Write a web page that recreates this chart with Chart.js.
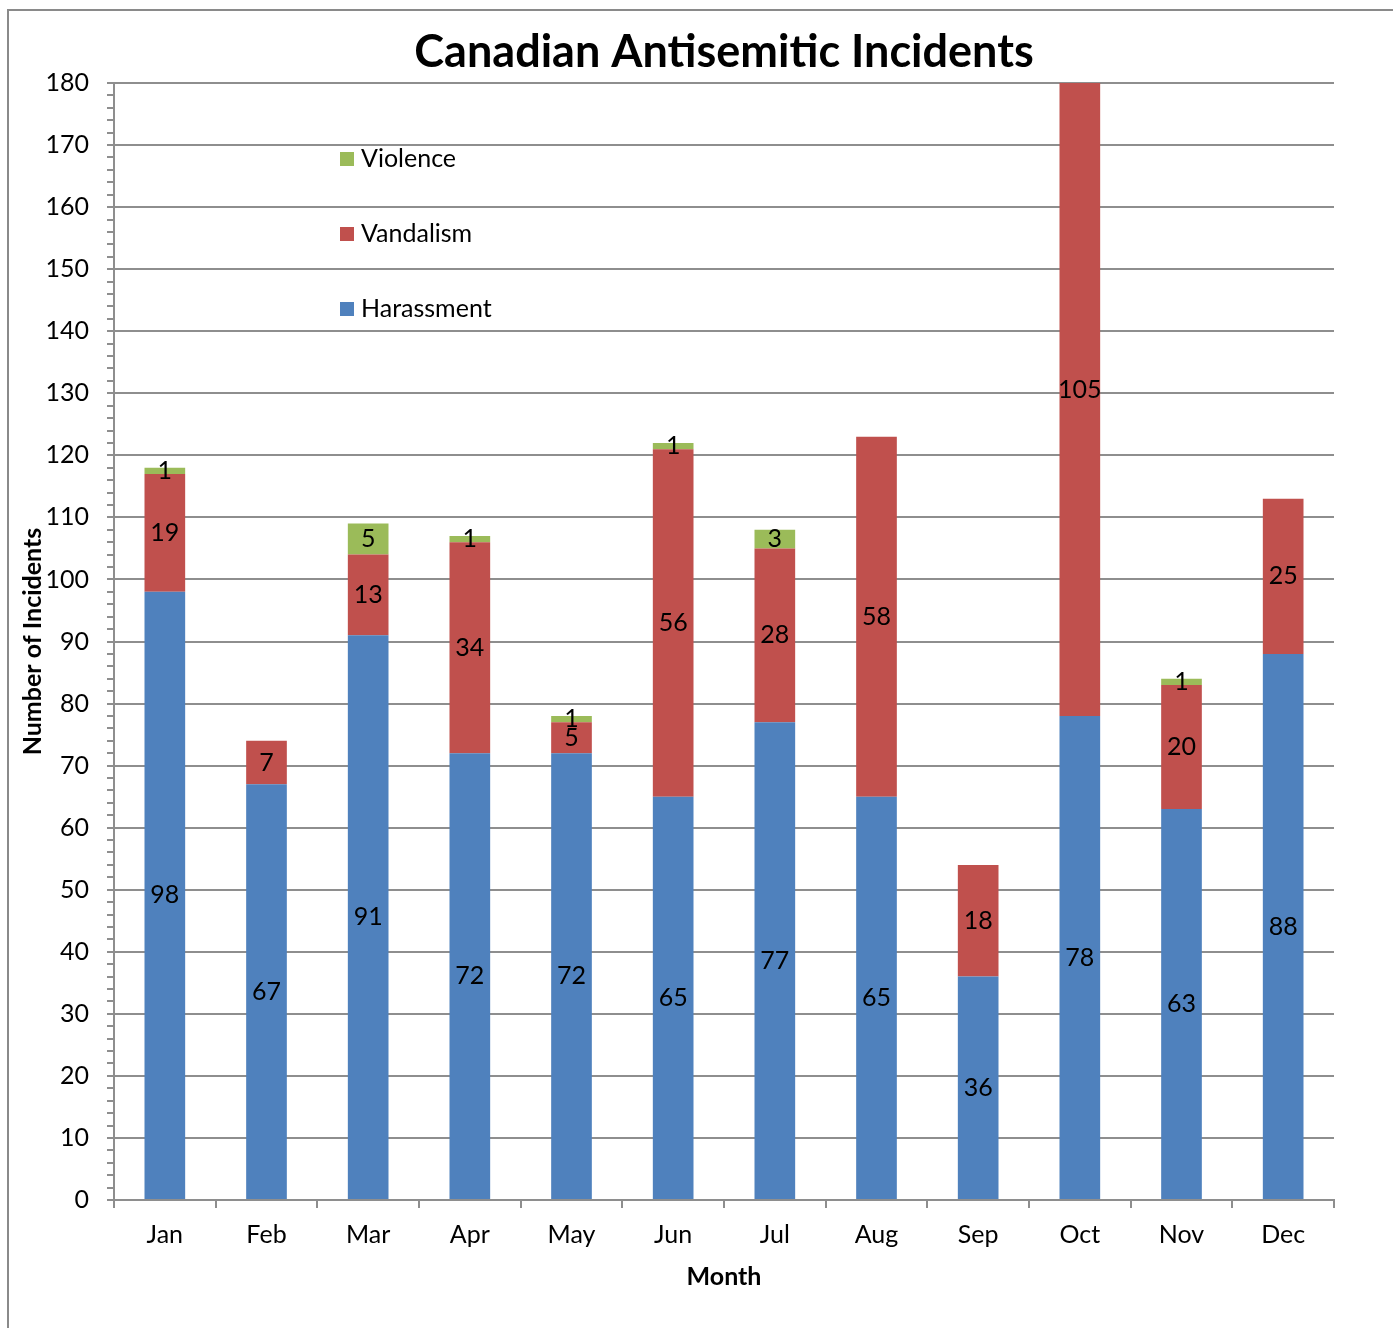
<!DOCTYPE html>
<html>
<head>
<meta charset="utf-8">
<script src="https://cdn.jsdelivr.net/npm/chart.js@4/dist/chart.umd.min.js"></script>
<style>
    html, body { margin: 0; padding: 0; background: #fff; overflow: hidden; }
    #frame { position: absolute; left: 7px; top: 9px; width: 1420px; height: 1360px; border: 2px solid #8a8a8a; }
    #chart { position: absolute; left: 0; top: 0; }
</style>
</head>
<body>
<div id="frame"></div>
<canvas id="chart" width="1393" height="1328"></canvas>
<script>
// data
const months = ["Jan", "Feb", "Mar", "Apr", "May", "Jun", "Jul", "Aug", "Sep", "Oct", "Nov", "Dec"];
const harassment = [98, 67, 91, 72, 72, 65, 77, 65, 36, 78, 63, 88];
const vandalism = [19, 7, 13, 34, 5, 56, 28, 58, 18, 105, 20, 25];
const violence = [1, null, 5, 1, 1, 1, 3, null, null, null, 1, null];

const FONT = "Lato";
const GRID = "#8e8e8e";

// numbers in the middle of each segment
const segmentLabels = {
    id: "segmentLabels",
    afterDatasetsDraw(chart) {
        const ctx = chart.ctx;
        ctx.save();
        ctx.font = "25px " + FONT;
        ctx.fillStyle = "#000";
        ctx.textAlign = "center";
        ctx.textBaseline = "middle";
        chart.data.datasets.forEach((ds, i) => {
            chart.getDatasetMeta(i).data.forEach((bar, j) => {
                const v = ds.data[j];
                if (v === null || v === undefined) return;
                ctx.fillText(String(v), bar.x, (bar.y + bar.base) / 2);
            });
        });
        ctx.restore();
    }
};

// legend sits inside the plot, top item = top series
const insideLegend = {
    id: "insideLegend",
    afterDraw(chart) {
        const ctx = chart.ctx;
        const area = chart.chartArea;
        const x = area.left + 226;
        let y = area.top + 76;
        ctx.save();
        ctx.font = "25px " + FONT;
        ctx.textAlign = "left";
        ctx.textBaseline = "middle";
        const list = chart.data.datasets.slice().reverse();
        list.forEach(ds => {
            ctx.fillStyle = ds.backgroundColor;
            ctx.fillRect(x, y - 7, 14, 14);
            ctx.fillStyle = "#000";
            ctx.fillText(ds.label, x + 21, y);
            y += 75;
        });
        ctx.restore();
    }
};

new Chart(document.getElementById("chart").getContext("2d"), {
    type: "bar",
    data: {
        labels: months,
        datasets: [
            { label: "Harassment", data: harassment, backgroundColor: "#4F81BD" },
            { label: "Vandalism", data: vandalism, backgroundColor: "#C0504D" },
            { label: "Violence", data: violence, backgroundColor: "#9BBB59" },
        ],
    },
    options: {
        responsive: false,
        animation: false,
        layout: { padding: { left: 10, right: 59, top: 0, bottom: 36 } },
        datasets: { bar: { barPercentage: 0.4, categoryPercentage: 1 } },
        plugins: {
            legend: { display: false },
            tooltip: { enabled: false },
            title: {
                display: true,
                fullSize: false,
                text: "Canadian Antisemitic Incidents",
                color: "#000",
                font: { family: FONT, size: 45, weight: "bold", lineHeight: 1 },
                padding: { top: 30, bottom: 8 },
            },
        },
        scales: {
            x: {
                stacked: true,
                grid: { offset: true, drawOnChartArea: false, drawTicks: true, tickLength: 8, tickColor: GRID, lineWidth: 2 },
                border: { display: true, color: GRID, width: 2 },
                ticks: { color: "#000", font: { family: FONT, size: 25 }, padding: 12 },
                title: { display: true, text: "Month", color: "#000", font: { family: FONT, size: 25, weight: "bold" }, padding: { top: 0, bottom: 0 } },
            },
            y: {
                stacked: true,
                min: 0,
                max: 180,
                afterFit(scale) { scale.width = 104; },
                grid: {
                    color: c => (c.tick && c.tick.value % 10 === 0 ? GRID : "rgba(0,0,0,0)"),
                    tickColor: GRID,
                    lineWidth: 2,
                    tickLength: 7,
                },
                border: { display: true, color: GRID, width: 2 },
                ticks: {
                    stepSize: 2,
                    autoSkip: false,
                    color: "#000",
                    font: { family: FONT, size: 25 },
                    padding: 18,
                    callback: v => (v % 10 === 0 ? v : ""),
                },
                title: { display: true, text: "Number of Incidents", color: "#000", font: { family: FONT, size: 25, weight: "bold" }, padding: { top: 8, bottom: 0 } },
            },
        },
    },
    plugins: [segmentLabels, insideLegend],
});
</script>
</body>
</html>
